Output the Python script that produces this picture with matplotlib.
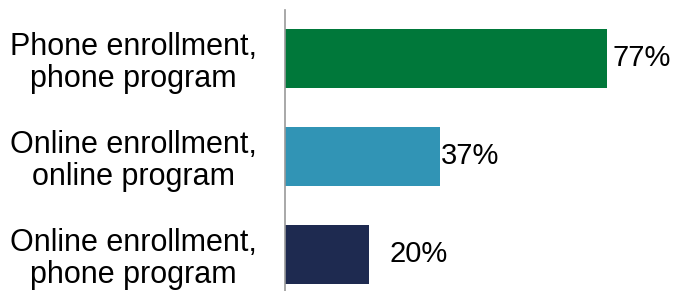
import matplotlib
matplotlib.use("Agg")
import matplotlib.pyplot as plt

categories = ["Phone enrollment,\nphone program",
              "Online enrollment,\nonline program",
              "Online enrollment,\nphone program"]
values = [77, 37, 20]
labels = ["77%", "37%", "20%"]
colors = ["#00783A", "#3194B5", "#1E2A50"]
label_pad_px = [6, 1, 21]

W, H, DPI = 675, 291, 100
fig = plt.figure(figsize=(W / DPI, H / DPI), dpi=DPI)
left_px, top_px = 285, 9.5
ax = fig.add_axes([left_px / W, 0, 1 - left_px / W, 1 - top_px / H])

y = list(range(len(values)))
ax.barh(y, values, height=0.6, color=colors, left=0)
ax.set_xlim(0, (W - left_px) / 4.18)
ax.set_ylim(2 + (291 - 254.5) / 98, -0.5)

for spine in ["top", "right", "bottom"]:
    ax.spines[spine].set_visible(False)
ax.spines["left"].set_color("#999999")
ax.spines["left"].set_linewidth(1.2)
ax.set_xticks([])
ax.set_yticks(y)
ax.set_yticklabels(categories, fontsize=22, family="Liberation Sans",
                   ha="center", linespacing=1.08)
ax.tick_params(axis="y", length=0, pad=152 * 72 / DPI)

for yi, v, lab, pad in zip(y, values, labels, label_pad_px):
    ax.annotate(lab, (v, yi), xytext=(pad * 72 / DPI, 0), textcoords="offset points",
                va="center", ha="left", fontsize=21, family="Liberation Sans")

fig.savefig("out.png", dpi=DPI)
